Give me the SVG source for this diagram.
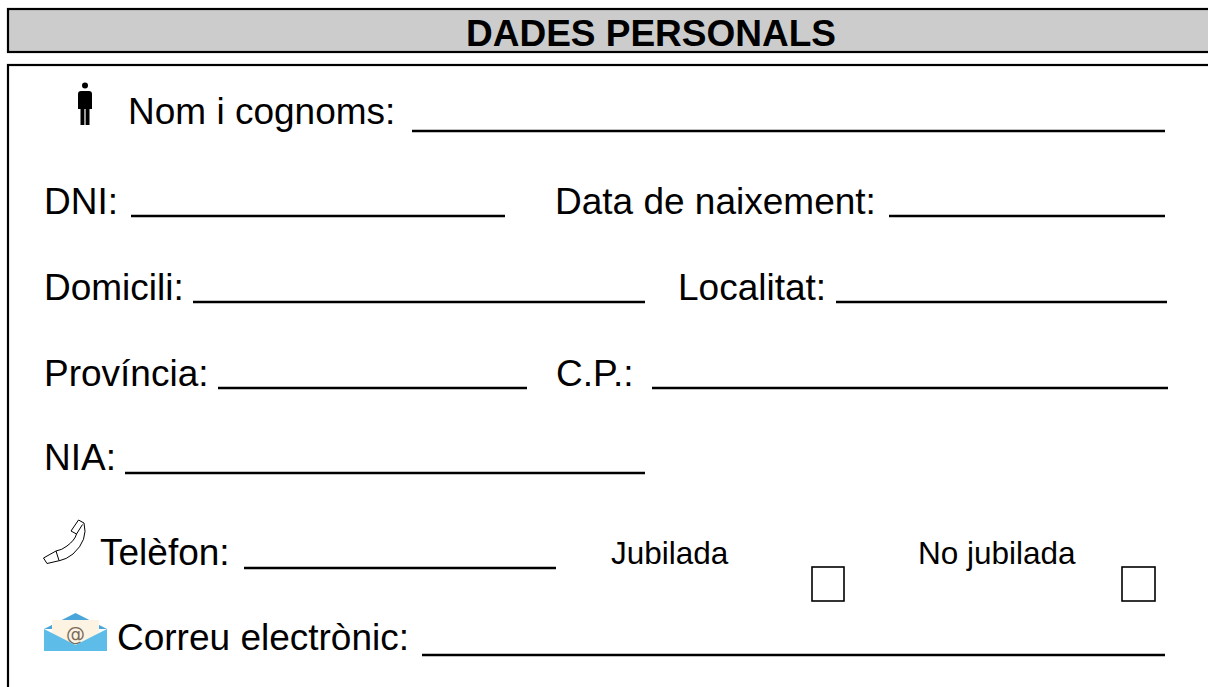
<svg xmlns="http://www.w3.org/2000/svg" width="1208" height="687" viewBox="0 0 1208 687">
<style>
.lbl{font-family:"Liberation Sans",Arial,sans-serif;font-size:37px;fill:#000}
.sm{font-family:"Liberation Sans",Arial,sans-serif;font-size:31.5px;fill:#000}
.ttl{font-family:"Liberation Sans",Arial,sans-serif;font-size:37px;font-weight:bold;fill:#000}
.ul{stroke:#000;stroke-width:2.6;fill:none}
.box{fill:#fff;stroke:#000;stroke-width:1.6}
.ph{fill:#fff;stroke:#000;stroke-width:1;stroke-linejoin:round}
</style>
<rect width="1208" height="687" fill="#fff"/>
<g id="header">
<rect x="8" y="9" width="1215" height="43" fill="#cccccc" stroke="#000" stroke-width="2.2"/>
<text class="ttl" x="651" y="46" text-anchor="middle">DADES PERSONALS</text>
</g>
<g id="body">
<rect x="8" y="65" width="1215" height="640" fill="#fff" stroke="#000" stroke-width="2.2"/>
</g>
<g id="nom">
<circle cx="85" cy="85.5" r="3" fill="#000"/>
<path d="M78 94 Q78 91 81 91 L89 91 Q92 91 92 94 L92 109 L89.5 109 L89.5 125 L85.6 125 L85.6 109 L84.4 109 L84.4 125 L80.5 125 L80.5 109 L78 109 Z" fill="#000"/>
<text class="lbl" x="128" y="124">Nom i cognoms:</text>
<line class="ul" x1="412" y1="131" x2="1165" y2="131"/>
</g>
<g id="dni">
<text class="lbl" x="44" y="214">DNI:</text>
<line class="ul" x1="131" y1="216" x2="505" y2="216"/>
</g>
<g id="data">
<text class="lbl" x="555" y="214">Data de naixement:</text>
<line class="ul" x1="889" y1="216" x2="1165" y2="216"/>
</g>
<g id="domicili">
<text class="lbl" x="44" y="300">Domicili:</text>
<line class="ul" x1="193" y1="302" x2="645" y2="302"/>
</g>
<g id="localitat">
<text class="lbl" x="678" y="300">Localitat:</text>
<line class="ul" x1="836" y1="302" x2="1167" y2="302"/>
</g>
<g id="provincia">
<text class="lbl" x="44" y="386">Província:</text>
<line class="ul" x1="218" y1="388" x2="527" y2="388"/>
</g>
<g id="cp">
<text class="lbl" x="556" y="386">C.P.:</text>
<line class="ul" x1="652" y1="388" x2="1168" y2="388"/>
</g>
<g id="nia">
<text class="lbl" x="44" y="470">NIA:</text>
<line class="ul" x1="125" y1="473" x2="645" y2="473"/>
</g>
<g id="telefon">
<path class="ph" d="M71 531 L78.5 520 L84 523 Q88.5 540 73 554 Q66 559.5 60 560.5 L47 563.5 L43.5 558 L56 551 Q62 550 67 546 Q75 540 76.5 534 Z"/>
<line x1="76.5" y1="534" x2="82.5" y2="524.5" stroke="#000" stroke-width="1"/>
<line x1="56" y1="551" x2="59" y2="560.5" stroke="#000" stroke-width="1"/>
<text class="lbl" x="100" y="565">Telèfon:</text>
<line class="ul" x1="244" y1="568" x2="556" y2="568"/>
</g>
<g id="jubilada">
<text class="sm" x="611" y="564">Jubilada</text>
<rect class="box" x="812" y="567" width="32" height="34"/>
</g>
<g id="nojubilada">
<text class="sm" x="918" y="564">No jubilada</text>
<rect class="box" x="1122" y="567" width="33" height="34"/>
</g>
<g id="correu">
<polygon points="44,629 75.5,613 107,629" fill="#4aa6da"/>
<rect x="52" y="620" width="47" height="23" fill="#fcf3e2"/>
<text x="75.5" y="641" text-anchor="middle" font-family="'DejaVu Sans',sans-serif" font-size="19" fill="#7b6b5b">@</text>
<polygon points="44,629 75.5,645 107,629 107,651 44,651" fill="#5dbde8"/>
<text class="lbl" x="117" y="650">Correu electrònic:</text>
<line class="ul" x1="422" y1="655" x2="1165" y2="655"/>
</g>
</svg>
